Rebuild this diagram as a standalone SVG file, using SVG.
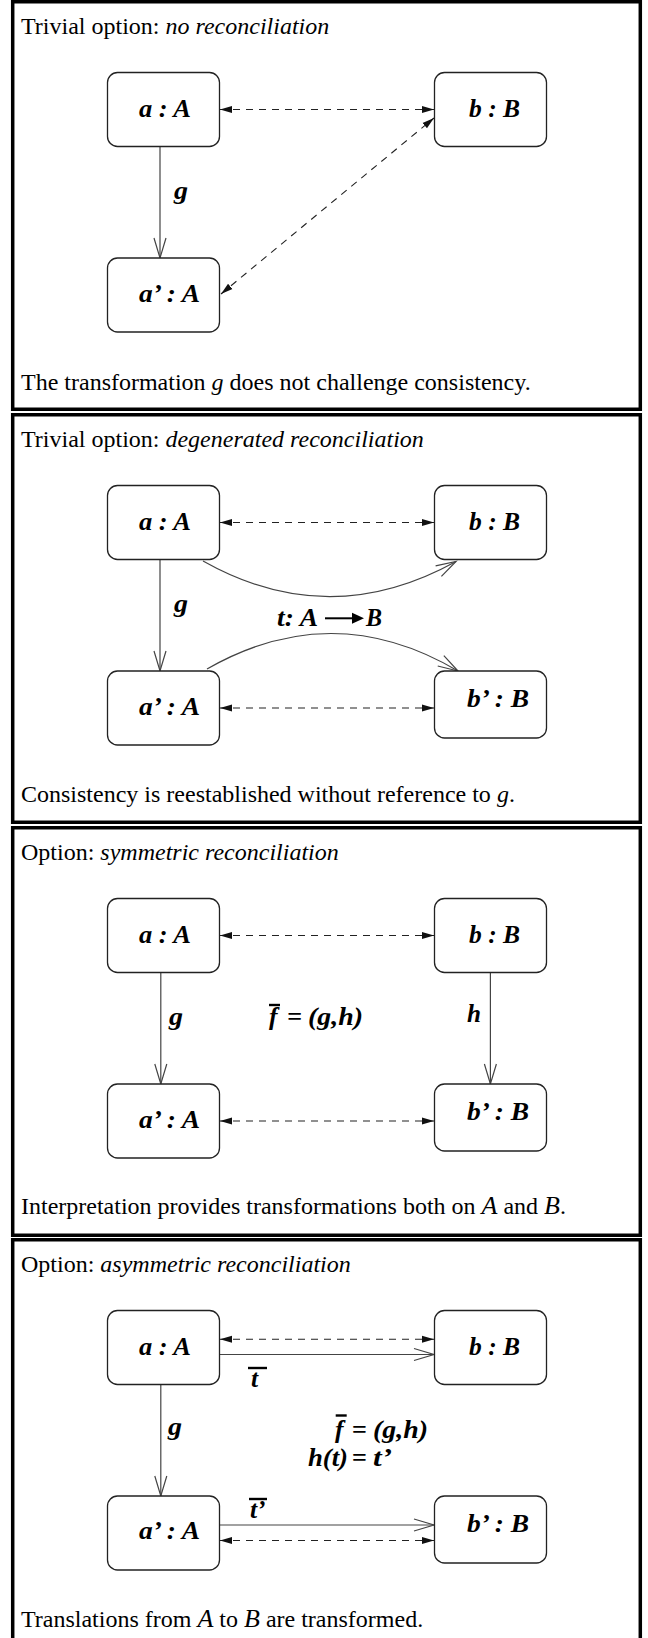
<svg xmlns="http://www.w3.org/2000/svg" width="648" height="1638" viewBox="0 0 648 1638">
<style>
.frame{fill:none;stroke:#000;stroke-width:3.5}
.box{fill:#fff;stroke:#222;stroke-width:1.3}
.lbl{font-family:"Liberation Serif","Times New Roman",serif;font-size:25.5px;font-weight:bold;font-style:italic;fill:#000}
.txt{font-family:"Liberation Serif","Times New Roman",serif;font-size:24px;fill:#000}
.it{font-style:italic}
.m{font-style:italic;font-size:26px}
.dash{fill:none;stroke:#222;stroke-width:1.1;stroke-dasharray:7 6;marker-start:url(#fh);marker-end:url(#fh)}
.solid{fill:none;stroke:#444;stroke-width:1.2;marker-end:url(#oh)}
.bar{stroke:#000;stroke-width:2.4}
</style>
<defs>
<marker id="fh" markerUnits="userSpaceOnUse" markerWidth="14" markerHeight="10" viewBox="0 0 14 10" refX="12" refY="5" orient="auto-start-reverse"><path d="M0,1.5 L12,5 L0,8.5 z" fill="#111"/></marker>
<marker id="oh" markerUnits="userSpaceOnUse" markerWidth="24" markerHeight="16" viewBox="0 0 24 16" refX="21" refY="8" orient="auto"><path d="M1,2 L21,8 L1,14" fill="none" stroke="#444" stroke-width="1.2"/></marker>
</defs>

<!-- Panel 1 -->
<g id="panel1">
<rect class="frame" x="12.7" y="1.75" width="627.6" height="407.5"/>
<text class="txt" x="21" y="34">Trivial option: <tspan class="it">no reconciliation</tspan></text>
<g id="p1-connectors">
<line class="dash" x1="220" y1="109.5" x2="434" y2="109.5"/>
<line class="dash" x1="221" y1="294" x2="434" y2="118"/>
<line class="solid" x1="160" y1="147" x2="160" y2="258"/>
<text class="lbl" x="174" y="199" textLength="14" lengthAdjust="spacingAndGlyphs">g</text>
</g>
<g id="p1-a"><rect class="box" x="107.5" y="72.5" width="112" height="74" rx="10"/><text class="lbl" x="139" y="117" textLength="52" lengthAdjust="spacingAndGlyphs">a : A</text></g>
<g id="p1-b"><rect class="box" x="434.5" y="72.5" width="112" height="74" rx="10"/><text class="lbl" x="469" y="117" textLength="51" lengthAdjust="spacingAndGlyphs">b : B</text></g>
<g id="p1-a2"><rect class="box" x="107.5" y="258" width="112" height="74" rx="10"/><text class="lbl" x="139" y="302" textLength="61" lengthAdjust="spacingAndGlyphs">a’ : A</text></g>
<text class="txt" x="21" y="390">The transformation <tspan class="it">g</tspan> does not challenge consistency.</text>
</g>

<!-- Panel 2 -->
<g id="panel2" transform="translate(0,413)">
<rect class="frame" x="12.7" y="1.75" width="627.6" height="407.5"/>
<text class="txt" x="21" y="34">Trivial option: <tspan class="it">degenerated reconciliation</tspan></text>
<g id="p2-connectors">
<line class="dash" x1="220" y1="109.5" x2="434" y2="109.5"/>
<line class="dash" x1="220" y1="295" x2="434" y2="295"/>
<line class="solid" x1="160" y1="147" x2="160" y2="258"/>
<path class="solid" d="M203,148 Q329,219 456,148.5"/>
<path class="solid" d="M207,256 Q333,184 458,258"/>
<text class="lbl" x="174" y="199" textLength="14" lengthAdjust="spacingAndGlyphs">g</text>
<text class="lbl" x="277" y="212.7" textLength="41" lengthAdjust="spacingAndGlyphs">t: A</text>
<line x1="325" y1="205.3" x2="355" y2="205.3" stroke="#000" stroke-width="2"/>
<path d="M352,199.8 L364,205.3 L352,210.8 z" fill="#000"/>
<text class="lbl" x="366" y="212.7" textLength="16" lengthAdjust="spacingAndGlyphs">B</text>
</g>
<g id="p2-a"><rect class="box" x="107.5" y="72.5" width="112" height="74" rx="10"/><text class="lbl" x="139" y="117" textLength="52" lengthAdjust="spacingAndGlyphs">a : A</text></g>
<g id="p2-b"><rect class="box" x="434.5" y="72.5" width="112" height="74" rx="10"/><text class="lbl" x="469" y="117" textLength="51" lengthAdjust="spacingAndGlyphs">b : B</text></g>
<g id="p2-a2"><rect class="box" x="107.5" y="258" width="112" height="74" rx="10"/><text class="lbl" x="139" y="302" textLength="61" lengthAdjust="spacingAndGlyphs">a’ : A</text></g>
<g id="p2-b2"><rect class="box" x="434.5" y="258" width="112" height="67" rx="10"/><text class="lbl" x="467" y="294" textLength="62" lengthAdjust="spacingAndGlyphs">b’ : B</text></g>
<text class="txt" x="21" y="389">Consistency is reestablished without reference to <tspan class="it">g</tspan>.</text>
</g>

<!-- Panel 3 -->
<g id="panel3" transform="translate(0,826)">
<rect class="frame" x="12.7" y="1.75" width="627.6" height="407.5"/>
<text class="txt" x="21" y="34">Option: <tspan class="it">symmetric reconciliation</tspan></text>
<g id="p3-connectors">
<line class="dash" x1="220" y1="109.5" x2="434" y2="109.5"/>
<line class="dash" x1="220" y1="295" x2="434" y2="295"/>
<line class="solid" x1="160.8" y1="147" x2="160.8" y2="258"/>
<line class="solid" x1="490.4" y1="147" x2="490.4" y2="258"/>
<text class="lbl" x="169" y="199" textLength="14" lengthAdjust="spacingAndGlyphs">g</text>
<text class="lbl" x="467" y="196" textLength="14" lengthAdjust="spacingAndGlyphs">h</text>
<text class="lbl" x="269" y="199">f</text>
<text class="lbl" x="287" y="199" textLength="15" lengthAdjust="spacingAndGlyphs">=</text>
<text class="lbl" x="308" y="199" textLength="55" lengthAdjust="spacingAndGlyphs">(g,h)</text>
<line class="bar" x1="269" y1="179" x2="280" y2="179"/>
</g>
<g id="p3-a"><rect class="box" x="107.5" y="72.5" width="112" height="74" rx="10"/><text class="lbl" x="139" y="117" textLength="52" lengthAdjust="spacingAndGlyphs">a : A</text></g>
<g id="p3-b"><rect class="box" x="434.5" y="72.5" width="112" height="74" rx="10"/><text class="lbl" x="469" y="117" textLength="51" lengthAdjust="spacingAndGlyphs">b : B</text></g>
<g id="p3-a2"><rect class="box" x="107.5" y="258" width="112" height="74" rx="10"/><text class="lbl" x="139" y="302" textLength="61" lengthAdjust="spacingAndGlyphs">a’ : A</text></g>
<g id="p3-b2"><rect class="box" x="434.5" y="258" width="112" height="67" rx="10"/><text class="lbl" x="467" y="294" textLength="62" lengthAdjust="spacingAndGlyphs">b’ : B</text></g>
<text class="txt" x="21" y="388">Interpretation provides transformations both on <tspan class="m">A</tspan> and <tspan class="m">B</tspan>.</text>
</g>

<!-- Panel 4 -->
<g id="panel4" transform="translate(0,1238)">
<rect class="frame" x="12.7" y="1.75" width="627.6" height="407.5"/>
<text class="txt" x="21" y="34">Option: <tspan class="it">asymmetric reconciliation</tspan></text>
<g id="p4-connectors">
<line class="dash" x1="220" y1="101.3" x2="434" y2="101.3"/>
<line class="solid" x1="220" y1="116.5" x2="434" y2="116.5"/>
<line class="solid" x1="220" y1="287" x2="434" y2="287"/>
<line class="dash" x1="220" y1="302.5" x2="434" y2="302.5"/>
<line class="solid" x1="160.8" y1="147" x2="160.8" y2="258"/>
<text class="lbl" x="168" y="197" textLength="14" lengthAdjust="spacingAndGlyphs">g</text>
<text class="lbl" x="251" y="149">t</text>
<line class="bar" x1="248" y1="130" x2="267" y2="130"/>
<text class="lbl" x="250" y="279.5">t’</text>
<line class="bar" x1="249" y1="261" x2="267" y2="261"/>
<text class="lbl" x="335" y="199.5">f</text>
<text class="lbl" x="351.7" y="199.5" textLength="15" lengthAdjust="spacingAndGlyphs">=</text>
<text class="lbl" x="373" y="199.5" textLength="55" lengthAdjust="spacingAndGlyphs">(g,h)</text>
<line class="bar" x1="335.7" y1="177.5" x2="346.7" y2="177.5"/>
<text class="lbl" x="308" y="228" textLength="40" lengthAdjust="spacingAndGlyphs">h(t)</text>
<text class="lbl" x="351.7" y="228" textLength="15" lengthAdjust="spacingAndGlyphs">=</text>
<text class="lbl" x="373" y="228" textLength="19" lengthAdjust="spacingAndGlyphs">t’</text>
</g>
<g id="p4-a"><rect class="box" x="107.5" y="72.5" width="112" height="74" rx="10"/><text class="lbl" x="139" y="117" textLength="52" lengthAdjust="spacingAndGlyphs">a : A</text></g>
<g id="p4-b"><rect class="box" x="434.5" y="72.5" width="112" height="74" rx="10"/><text class="lbl" x="469" y="117" textLength="51" lengthAdjust="spacingAndGlyphs">b : B</text></g>
<g id="p4-a2"><rect class="box" x="107.5" y="258" width="112" height="74" rx="10"/><text class="lbl" x="139" y="301" textLength="61" lengthAdjust="spacingAndGlyphs">a’ : A</text></g>
<g id="p4-b2"><rect class="box" x="434.5" y="258" width="112" height="67" rx="10"/><text class="lbl" x="467" y="294" textLength="62" lengthAdjust="spacingAndGlyphs">b’ : B</text></g>
<text class="txt" x="21" y="389">Translations from <tspan class="m">A</tspan> to <tspan class="m">B</tspan> are transformed.</text>
</g>
</svg>
